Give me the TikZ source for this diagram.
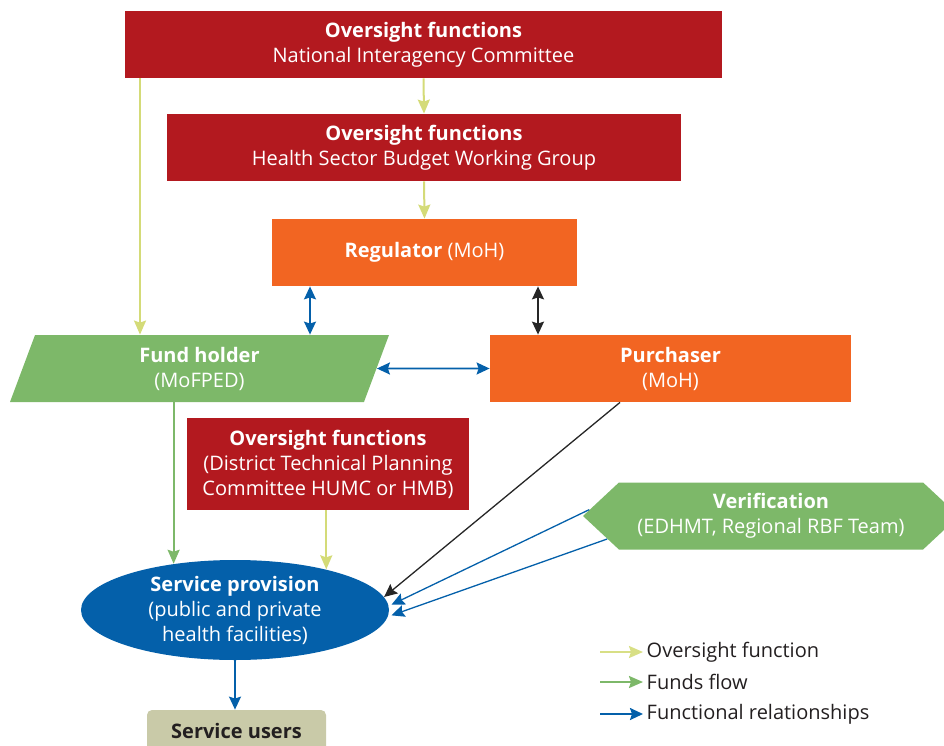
\documentclass[tikz,border=0pt]{standalone}
\usepackage{fontspec}
\setmainfont{Open Sans}
\usetikzlibrary{arrows.meta,shapes.geometric,shapes.symbols}

\definecolor{ofred}{HTML}{B3191F}
\definecolor{regorange}{HTML}{F26522}
\definecolor{fhgreen}{HTML}{7DB869}
\definecolor{spblue}{HTML}{0460AA}
\definecolor{ovyellow}{HTML}{D4DB78}
\definecolor{sukhaki}{HTML}{C9CAA8}
\definecolor{txtgray}{HTML}{231F20}

\begin{document}
\begin{tikzpicture}[x=1pt,y=-1pt,thick]
      \useasboundingbox (0,0) rectangle (944,746);
      \tikzstyle{node}=[minimum height=67pt,inner sep=0pt,
        text=white,align=center,
        font=\fontsize{20}{25}\selectfont]

      \node[node,fill=ofred,minimum width=597pt] (OF1) at (423.5,44.5)
           {\textbf{Oversight functions}\\National Interagency Committee};
      \node[node,fill=ofred,minimum width=514pt] (OF2) at (424,147.5)
           {\textbf{Oversight functions}\\Health Sector Budget Working Group};
      \node[node,fill=regorange,minimum width=305pt] (RE) at (424.5,252.5)
           {\textbf{Regulator} (MoH)};

      \node[node,fill=fhgreen,trapezium,trapezium left angle=60,
           trapezium right angle=120,trapezium stretches body,
           minimum width=379pt] (FH) at (199.5,368.5)
           {\textbf{Fund holder}\\(MoFPED)};
      \node[node,fill=regorange,minimum width=361pt] (PU) at (670.5,368.5)
           {\textbf{Purchaser}\\(MoH)};

      \node[node,fill=ofred,minimum width=282pt,minimum height=92pt] (OF3) at (328,464)
           {\textbf{Oversight functions}\\(District Technical Planning\\Committee HUMC or HMB)};
      \node[node,fill=fhgreen,signal,signal to=west and east,
           signal pointer angle=86,minimum width=376pt] (VE) at (771,516)
           {\textbf{Verification}\\(EDHMT, Regional RBF Team)};

      \node[node,fill=spblue,ellipse,minimum width=308pt,minimum height=100pt] (SP) at (235,610)
           {\textbf{Service provision}\\(public and private\\health facilities)};
      \node[node,fill=sukhaki,text=txtgray,rounded corners=5pt,
           minimum width=179pt,minimum height=42pt] (SU) at (236.5,731)
           {\textbf{Service users}};

      \tikzstyle{ov}=[-{Stealth[length=14pt,width=12pt,inset=2pt]},line width=2pt,draw=ovyellow]
      \tikzstyle{ff}=[-{Stealth[length=14pt,width=12pt,inset=2pt]},line width=2pt,draw=fhgreen]
      \tikzstyle{fr}=[-{Stealth[length=13pt,width=12pt,inset=2pt]},line width=1.6pt,draw=spblue]
      \tikzstyle{frr}=[{Stealth[length=13pt,width=12pt,inset=2pt]}-{Stealth[length=13pt,width=12pt,inset=2pt]},line width=1.6pt,draw=spblue]
      \tikzstyle{bk}=[{Stealth[length=13pt,width=12pt,inset=2pt]}-{Stealth[length=13pt,width=12pt,inset=2pt]},line width=1.6pt,draw=black!85]

      % columns of the vertical connectors
      \coordinate (xof) at (140,0);
      \coordinate (xrf) at (310,0);
      \coordinate (xrp) at (538,0);
      \coordinate (xpu) at (620,0);

      \draw[ov] (OF1.south) -- (OF2.north);
      \draw[ov] (OF2.south) -- (RE.north);
      \draw[ov] (OF1.south -| xof) -- (FH.north -| xof);

      \draw[frr] (RE.south -| xrf) -- (FH.north -| xrf);
      \draw[bk] (RE.south -| xrp) -- (PU.north -| xrp);
      \draw[frr] (FH.east) -- (PU.west);

      \draw[ff] (FH.south -| SP.143) -- (SP.143);
      \draw[ov] (OF3.south -| SP.24) -- (SP.24);

      \draw[bk,-{Stealth[length=13pt,width=12pt,inset=2pt]},line width=1.3pt] (PU.south -| xpu) -- (SP.5);
      \draw[fr,line width=1.3pt] (VE.178) -- ([xshift=3pt]SP.2);
      \draw[fr,line width=1.3pt] (VE.188) -- ([xshift=3pt]SP.-2);

      \draw[fr] (SP.south) -- (SP.south |- SU.north);

      % legend
      \tikzstyle{lg}=[anchor=west,text=txtgray,font=\fontsize{20}{25}\selectfont]
      \node[lg] (LOV) at (643,652) {Oversight function};
      \node[lg] (LFF) at (643,682) {Funds flow};
      \node[lg] (LFR) at (643,714) {Functional relationships};
      \draw[ov,draw=ovyellow!90] ([xshift=-43pt]LOV.west) -- (LOV.west);
      \draw[ff] ([xshift=-43pt]LFF.west) -- (LFF.west);
      \draw[fr,line width=2pt] ([xshift=-43pt]LFR.west) -- (LFR.west);

\end{tikzpicture}
\end{document}
